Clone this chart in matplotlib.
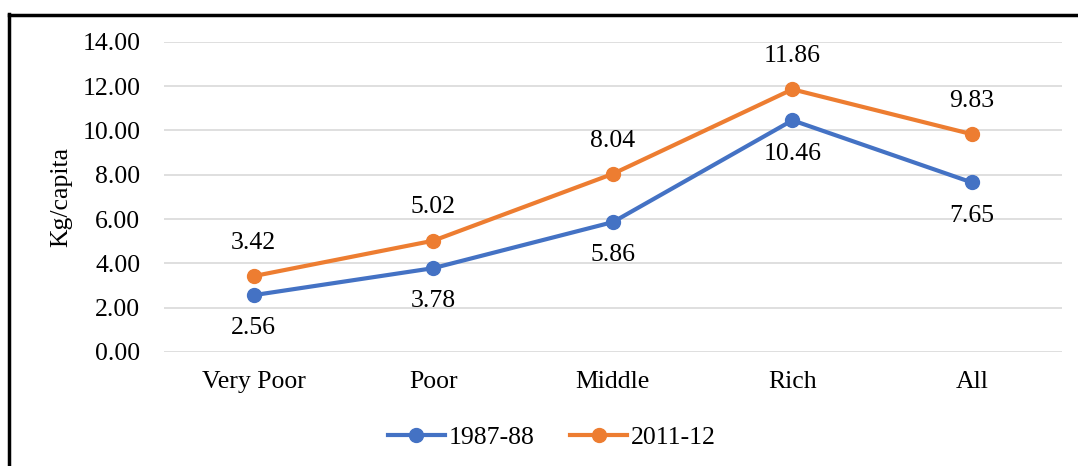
import matplotlib.pyplot as plt
from matplotlib.lines import Line2D

plt.rcParams['font.family'] = ['Liberation Serif', 'DejaVu Serif']

categories = ["Very Poor", "Poor", "Middle", "Rich", "All"]
y1987 = [2.56, 3.78, 5.86, 10.46, 7.65]
y2011 = [3.42, 5.02, 8.04, 11.86, 9.83]
yticks = [0, 2, 4, 6, 8, 10, 12, 14]

blue = "#4472C4"
orange = "#ED7D31"
fs = 18.5

fig = plt.figure(figsize=(10.78, 4.66), dpi=100)
ax = fig.add_axes([0.152, 0.245, 0.833, 0.665])

x = range(len(categories))
ax.plot(x, y1987, color=blue, lw=3, marker="o", ms=10, label="1987-88", zorder=3)
ax.plot(x, y2011, color=orange, lw=3, marker="o", ms=10, label="2011-12", zorder=3)

for i, v in enumerate(y1987):
    ax.annotate(f"{v:.2f}", (i, v), xytext=(0, -24), textcoords="offset points",
                ha="center", va="center", fontsize=fs)
for i, v in enumerate(y2011):
    ax.annotate(f"{v:.2f}", (i, v), xytext=(0, 24), textcoords="offset points",
                ha="center", va="center", fontsize=fs)

ax.set_xlim(-0.5, 4.5)
ax.set_ylim(0, 14)
ax.set_yticks(yticks)
ax.set_yticklabels([f"{t:.2f}" for t in yticks], fontsize=fs)
ax.set_xticks(list(x))
ax.set_xticklabels(categories, fontsize=fs)
ax.tick_params(length=0)
ax.tick_params(axis="x", pad=14)
ax.tick_params(axis="y", pad=17)
ax.grid(axis="y", color="#D9D9D9", lw=1.2)
ax.set_axisbelow(True)
for s in ax.spines.values():
    s.set_visible(False)
ax.set_ylabel("Kg/capita", fontsize=fs)
ax.yaxis.set_label_coords(-0.102, 0.5)

ax.legend(loc="center", bbox_to_anchor=(0.432, -0.275), ncol=2, frameon=False,
          fontsize=fs, handlelength=2.2, handletextpad=0.15, columnspacing=1.4)

# outer frame (top and left edges visible)
fig.add_artist(Line2D([0.0085, 0.0085], [0, 0.97], transform=fig.transFigure, color="black", lw=2.5))
fig.add_artist(Line2D([0.0085, 1.0], [0.968, 0.968], transform=fig.transFigure, color="black", lw=2.5))

fig.savefig("out.png", dpi=100)
